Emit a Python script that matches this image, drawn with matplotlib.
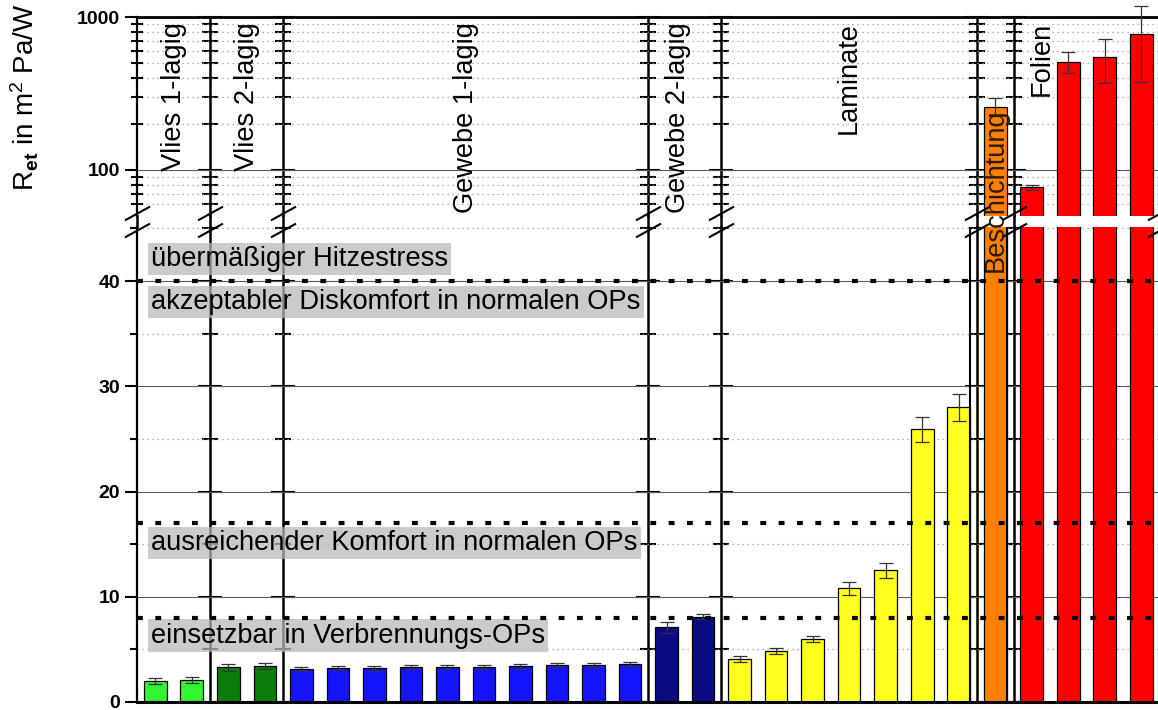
import numpy as np
import matplotlib
matplotlib.use("Agg")
import matplotlib.pyplot as plt
import matplotlib.transforms as mtransforms
from matplotlib.lines import Line2D
from matplotlib.ticker import MultipleLocator, LogLocator, NullFormatter, FixedLocator

plt.rcParams['font.family'] = ['Liberation Sans', 'DejaVu Sans']
plt.rcParams['mathtext.fontset'] = 'custom'
plt.rcParams['mathtext.rm'] = 'Liberation Sans'
plt.rcParams['mathtext.bf'] = 'Liberation Sans:bold'
plt.rcParams['mathtext.it'] = 'Liberation Sans:italic'

# ---------------- data ----------------
groups = ["Vlies 1-lagig", "Vlies 2-lagig", "Gewebe 1-lagig", "Gewebe 2-lagig",
          "Laminate", "Beschichtung", "Folien"]
vlies1 = [2.0, 2.1]
vlies1_err = [0.3, 0.3]
vlies2 = [3.3, 3.4]
vlies2_err = [0.35, 0.3]
gewebe1 = [3.1, 3.2, 3.2, 3.3, 3.3, 3.3, 3.4, 3.5, 3.5, 3.6]
gewebe1_err = [0.2, 0.2, 0.25, 0.2, 0.2, 0.2, 0.25, 0.2, 0.2, 0.2]
gewebe2 = [7.1, 8.1]
gewebe2_err = [0.5, 0.25]
laminate = [4.1, 4.85, 6.0, 10.8, 12.5, 25.9, 28.0]
laminate_err = [0.3, 0.3, 0.3, 0.6, 0.7, 1.2, 1.3]
beschichtung = [260]
beschichtung_err = [35]
folien = [77, 508, 548, 774]
folien_err = [3, 80, 175, 400]
group_colors = ["#33f533", "#0b7d0b", "#1414ff", "#0a0a82", "#ffff1e", "#ff8000", "#ff0000"]

thresholds = [8, 17, 40]
zone_labels = ["einsetzbar in Verbrennungs-OPs", "ausreichender Komfort in normalen OPs",
               "akzeptabler Diskomfort in normalen OPs", "übermäßiger Hitzestress"]
lower_ticks = [0, 10, 20, 30, 40]
upper_ticks = [100, 1000]
ylabel = r"R$_{\mathbf{et}}$ in m$^{2}$ Pa/W"

group_values = [vlies1, vlies2, gewebe1, gewebe2, laminate, beschichtung, folien]
group_errors = [vlies1_err, vlies2_err, gewebe1_err, gewebe2_err, laminate_err,
                beschichtung_err, folien_err]

values = np.concatenate([np.array(v, float) for v in group_values])
errors = np.concatenate([np.array(e, float) for e in group_errors])
colors = sum([[c] * len(v) for c, v in zip(group_colors, group_values)], [])
sizes = [len(v) for v in group_values]
x = np.arange(len(values))
bounds = np.cumsum(sizes)[:-1] - 0.5          # group separators (data x)
starts = np.concatenate([[0], np.cumsum(sizes)[:-1]])
centers = [s + (n - 1) / 2 for s, n in zip(starts, sizes)]

# ---------------- layout ----------------
W, H = 1158, 710
fig = plt.figure(figsize=(W / 100, H / 100), dpi=100)
left = 137 / W
width = (1159.6 - 137) / W
low_bot, low_top = 702, 227
up_bot, up_top = 216, 17
ax_low = fig.add_axes([left, (H - low_bot) / H, width, (low_bot - low_top) / H])
ax_up = fig.add_axes([left, (H - up_bot) / H, width, (up_bot - up_top) / H])

xlim = (-0.5, len(values) - 0.5)
ax_up.set_yscale('log')
ax_low.set_ylim(0, (low_bot - low_top) / 10.525)
ax_up.set_ylim(10 ** (2 - (up_bot - 170) / 153), 1000)

bw = 0.62
for ax in (ax_low, ax_up):
    ax.set_xlim(*xlim)
    ax.bar(x, values, width=bw, color=colors, edgecolor='black', linewidth=0.9, zorder=2)
    ax.set_xticks([])
    ax.tick_params(axis='x', length=0)

# error bars
ax_low.errorbar(x, values, yerr=errors, fmt='none', ecolor='#333333', elinewidth=0.9,
                capsize=5, capthick=0.9, zorder=3)
mask = values > ax_up.get_ylim()[0]
eb = ax_up.errorbar(x[mask], values[mask], yerr=errors[mask], fmt='none', ecolor='#333333',
                    elinewidth=0.9, capsize=5, capthick=0.9, zorder=3)
for a in list(eb.lines[1]) + list(eb.lines[2]):
    a.set_clip_on(False)

# spines
for sp in ('top', 'right'):
    ax_low.spines[sp].set_visible(False)
ax_low.spines['left'].set_linewidth(1.6)
ax_low.spines['bottom'].set_linewidth(2.2)
ax_up.spines['bottom'].set_visible(False)
ax_up.spines['right'].set_visible(False)
ax_up.spines['left'].set_linewidth(1.6)
ax_up.spines['top'].set_linewidth(2.0)

# y ticks / grid
ax_low.yaxis.set_major_locator(FixedLocator(lower_ticks))
ax_low.yaxis.set_minor_locator(MultipleLocator(5))
ax_low.tick_params(axis='y', which='major', direction='out', length=9, width=1.5, labelsize=14, pad=3)
ax_low.tick_params(axis='y', which='minor', direction='out', length=5, width=1.5)
ax_up.yaxis.set_major_locator(FixedLocator(upper_ticks))
ax_up.yaxis.set_minor_locator(LogLocator(base=10, subs=np.arange(2, 10)))
ax_up.yaxis.set_minor_formatter(NullFormatter())
ax_up.yaxis.set_major_formatter(matplotlib.ticker.FuncFormatter(lambda v, p: f"{int(v)}"))
ax_up.tick_params(axis='y', which='major', direction='out', length=9, width=1.5, labelsize=14, pad=3)
ax_up.tick_params(axis='y', which='minor', direction='inout', length=9, width=1.5)
for ax in (ax_low, ax_up):
    for lab in ax.get_yticklabels():
        lab.set_fontweight('bold')
    ax.yaxis.grid(True, which='major', color='#5a5a5a', lw=0.8, zorder=1)
    ax.yaxis.grid(True, which='minor', color='#9a9a9a', lw=0.9, ls=(0, (1, 3)), zorder=1)
    ax.set_axisbelow(True)

# separator axes (mirrored y axes with ticks)
for b in bounds:
    frac = (b - xlim[0]) / (xlim[1] - xlim[0])
    s1 = ax_low.secondary_yaxis(frac)
    s1.yaxis.set_major_locator(FixedLocator(lower_ticks))
    s1.yaxis.set_minor_locator(MultipleLocator(5))
    s1.yaxis.set_major_formatter(NullFormatter())
    s1.yaxis.set_minor_formatter(NullFormatter())
    s1.tick_params(axis='y', which='major', direction='inout', length=17, width=1.5)
    s1.tick_params(axis='y', which='minor', direction='inout', length=11, width=1.5)
    for sp in s1.spines.values():
        sp.set_linewidth(1.8)
    s2 = ax_up.secondary_yaxis(frac)
    s2.yaxis.set_major_locator(FixedLocator(upper_ticks))
    s2.yaxis.set_minor_locator(LogLocator(base=10, subs=np.arange(2, 10)))
    s2.yaxis.set_major_formatter(NullFormatter())
    s2.yaxis.set_minor_formatter(NullFormatter())
    s2.tick_params(axis='y', which='major', direction='inout', length=17, width=1.5)
    s2.tick_params(axis='y', which='minor', direction='inout', length=11, width=1.5)
    for sp in s2.spines.values():
        sp.set_linewidth(1.8)

# double lines around the single "Beschichtung" bar
for b in bounds[-2:]:
    ax_low.axvline(b - 0.18, color='black', lw=1.5, zorder=2.5)

# lines crossing the gap + break marks
fracs = [0.0] + [(b - xlim[0]) / (xlim[1] - xlim[0]) for b in bounds] + [1.0]
for f in fracs:
    xf = left + f * width
    fig.add_artist(Line2D([xf, xf], [(H - up_bot) / H, (H - low_top) / H],
                          color='black', lw=1.8, transform=fig.transFigure))
mk = [(-1, -0.55), (1, 0.55)]
up_off = mtransforms.ScaledTranslation(0, 3 / 100, fig.dpi_scale_trans)
low_off = mtransforms.ScaledTranslation(0, -3 / 100, fig.dpi_scale_trans)
ax_up.plot(fracs, [0] * len(fracs), transform=ax_up.transAxes + up_off, marker=mk,
           markersize=18, ls='none', color='black', mew=1.5, clip_on=False, zorder=6)
ax_low.plot(fracs, [1] * len(fracs), transform=ax_low.transAxes + low_off, marker=mk,
            markersize=18, ls='none', color='black', mew=1.5, clip_on=False, zorder=6)

# threshold lines
for t in thresholds:
    ax_low.axhline(t, color='black', lw=3.0, ls=(0, (1.4, 3.0)), dash_capstyle='butt', zorder=5)

# zone labels
zone_y = [6.3, 15.1, 38.0, 42.1]
box = dict(boxstyle='square,pad=0.12', fc=(0.72, 0.72, 0.72, 0.72), ec='none')
for s, yy in zip(zone_labels, zone_y):
    ax_low.text(-0.12, yy, s, ha='left', va='center', fontsize=19.6, color='black',
                bbox=box, zorder=4)

# group labels
trans = mtransforms.blended_transform_factory(ax_low.transData, fig.transFigure)
label_x = list(centers)
label_x[3] = centers[3] - 0.2
label_x[6] = starts[6] + 0.28
for i, (g, cx) in enumerate(zip(groups, label_x)):
    if g == "Beschichtung":
        fig.text(cx, (H - 190) / H, g, rotation=90, ha='center', va='center',
                 fontsize=19.6, color='#2a1a00', transform=trans)
    else:
        fig.text(cx, (H - 22) / H, g, rotation=90, ha='center', va='top',
                 fontsize=19.6, color='black', transform=trans)

fig.text(25 / W, (H - 97) / H, ylabel, rotation=90, ha='center', va='center', fontsize=20)

fig.savefig("out.png", dpi=100)
